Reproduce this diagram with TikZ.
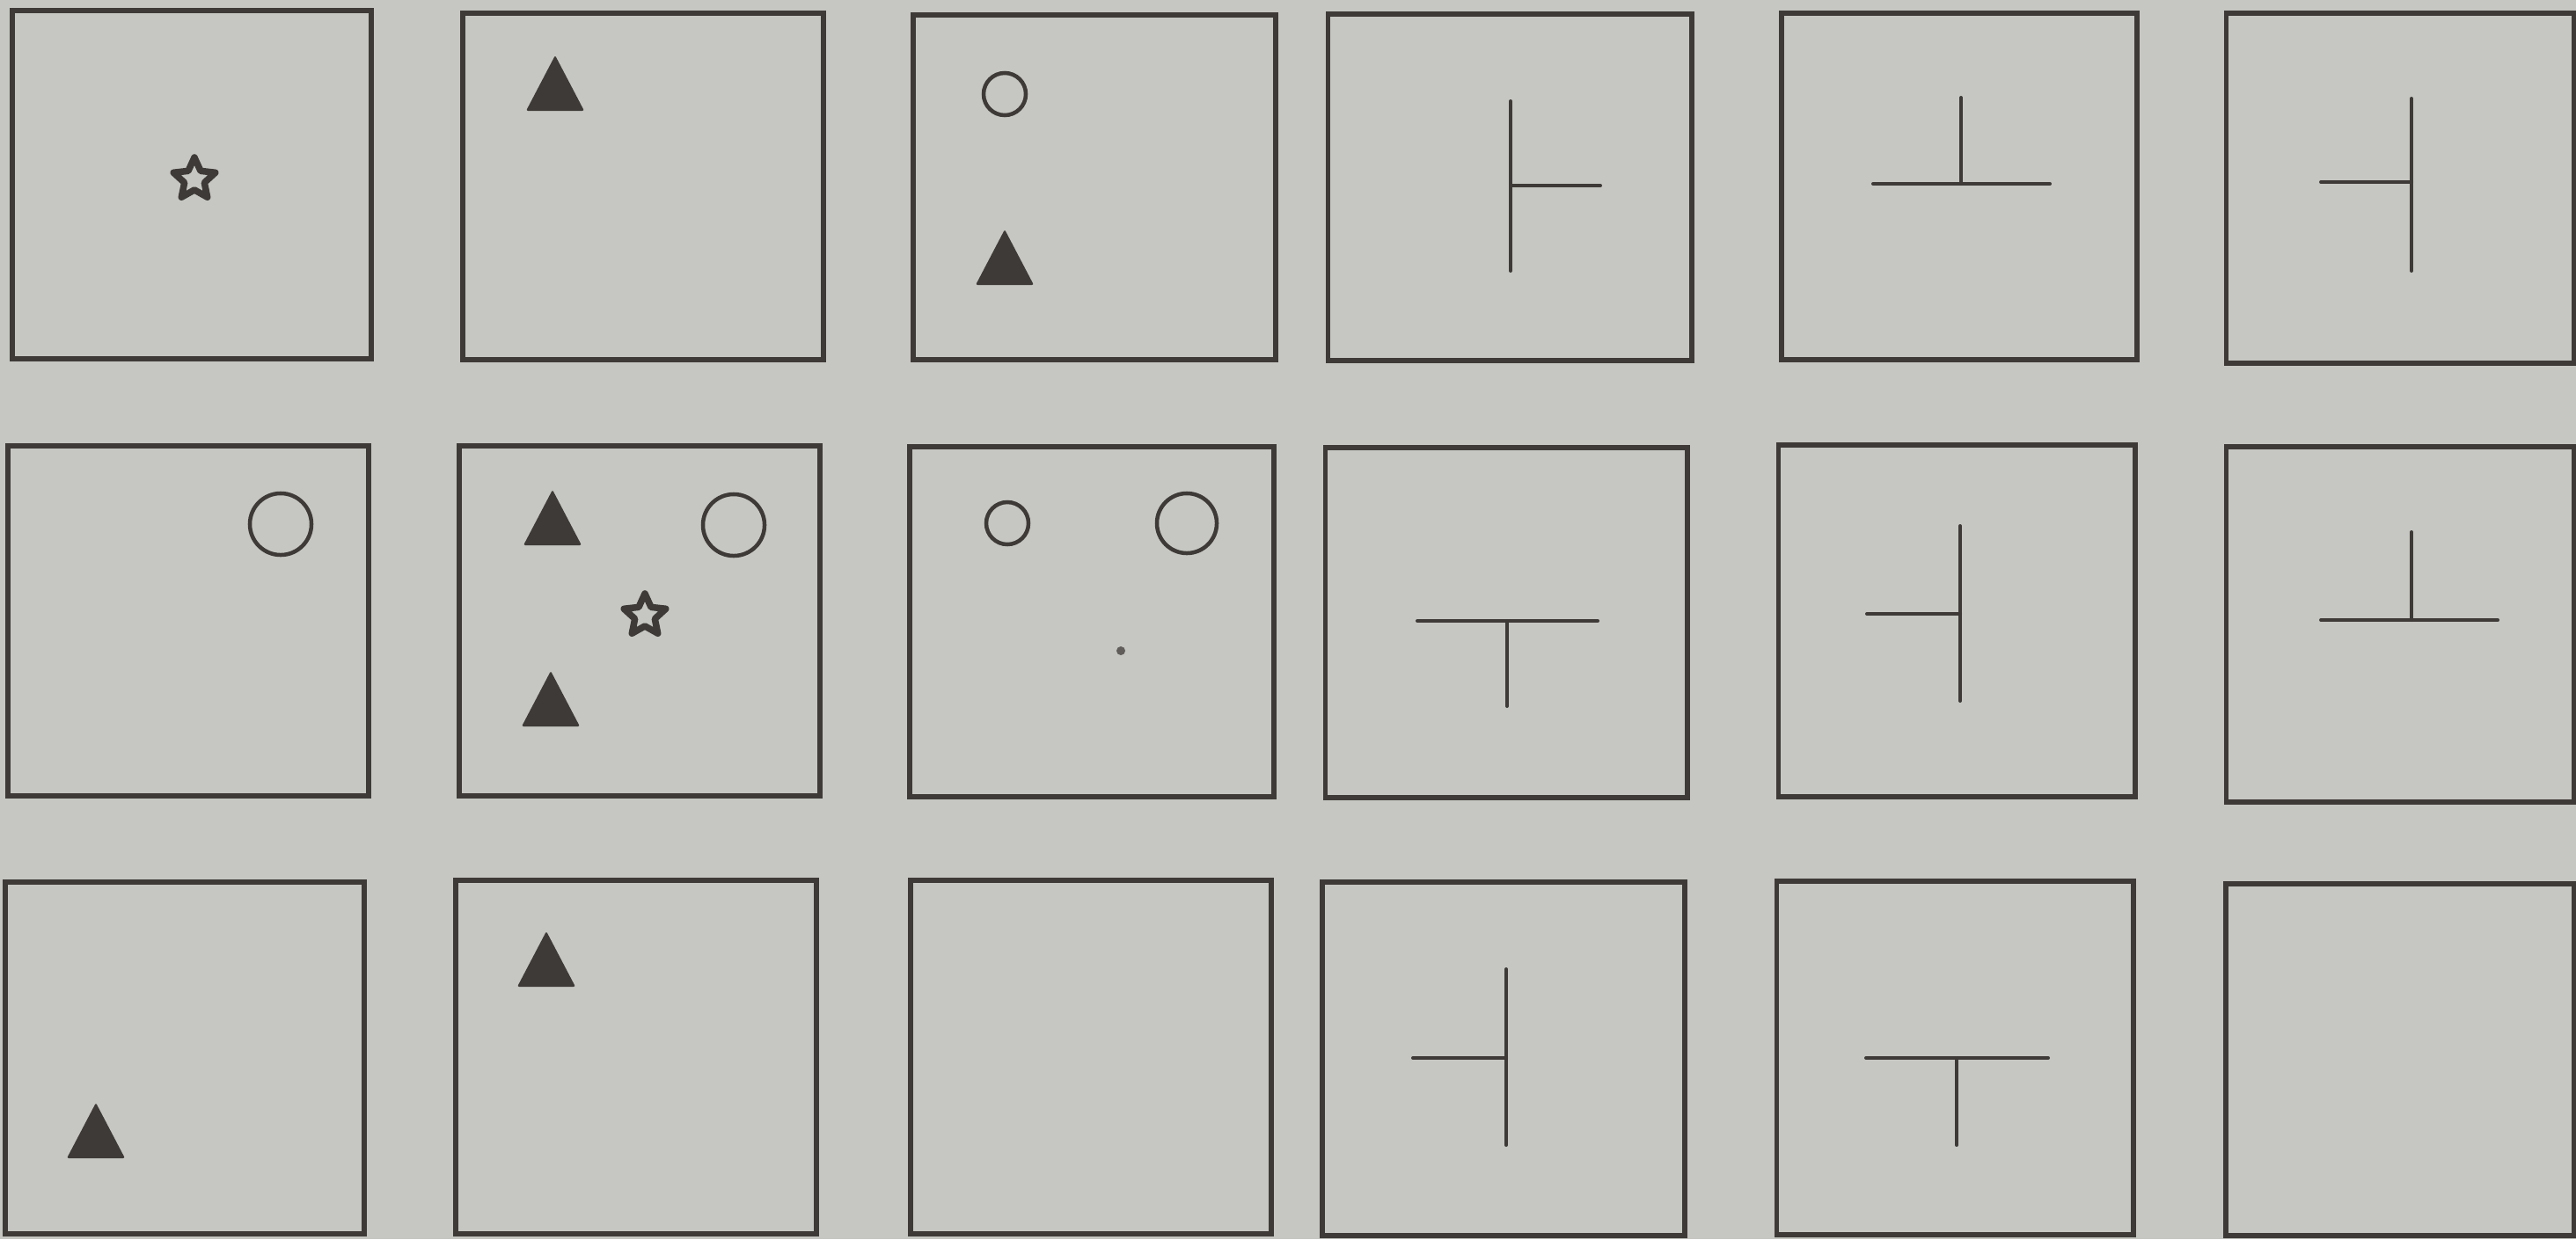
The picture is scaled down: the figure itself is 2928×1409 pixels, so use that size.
\documentclass[tikz,border=0pt]{standalone}
\usepackage{tikz}
\usetikzlibrary{shapes.geometric}
\definecolor{paper}{RGB}{198,199,194}
\definecolor{ink}{RGB}{62,58,55}

\begin{document}
\begin{tikzpicture}[x=0.01cm,y=-0.01cm,
  cell/.style={rectangle,draw=ink,line width=0.058cm,inner sep=0pt},
  stroke/.style={draw=ink,line width=0.04cm,line cap=round},
  ring/.style={draw=ink,line width=0.045cm},
  starmark/.style={star,star points=5,star point ratio=2.1,draw=ink,line width=0.075cm,line join=round,inner sep=0pt,minimum size=0.5cm}]
\fill[paper] (0,0) rectangle (2928,1409);
\useasboundingbox (0,0) rectangle (2928,1409);
\foreach \n/\cx/\cy/\w/\h in {a1/218/210/408/395,a2/731/212/410/393,a3/1244/213/412/392,a4/1716/213/413/394,a5/2227/212/404/393,a6/2728/214/395/397,
    b1/214/706/409/398,b2/727/706/410/397,b3/1241/707/413/398,b4/1712/708/411/398,b5/2224/706/405/399,b6/2728/710/395/403,
    c1/210/1203/407/400,c2/723/1202/410/401,c3/1240/1202/410/401,c4/1709/1204/412/401,c5/2222/1203/405/401,c6/2728/1205/396/399} {
    \node[cell,minimum width=\w*0.1mm,minimum height=\h*0.1mm] (\n) at (\cx,\cy) {};
}
\node[starmark] (s1) at (221,204) {};
\node[starmark] (s2) at (733,700) {};
\foreach \x/\y in {631/95,1142/293,628/589,626/795,109/1286,621/1091} {
    \fill[ink,rounded corners=0.6pt] (\x,\y-32) -- (\x+33,\y+31) -- (\x-33,\y+31) -- cycle;
}
\foreach \x/\y/\r in {1142/107/24,319/596/35,834/597/35,1145/595/24,1349/595/34} {
    \draw[ring] (\x,\y) circle[radius=\r*0.1mm];
}
\fill[ink!75!paper] (1274,740) circle[radius=0.05cm];
\foreach \xa/\ya/\xb/\yb in {1717/115/1717/308,1717/211/1819/211,
    2229/111/2229/209,2129/209/2330/209,
    2741/112/2741/308,2638/207/2741/207,
    1611/706/1816/706,1713/706/1713/803,
    2228/598/2228/797,2122/698/2228/698,
    2741/605/2741/705,2638/705/2839/705,
    1712/1102/1712/1302,1606/1203/1712/1203,
    2121/1203/2328/1203,2224/1203/2224/1302} {
    \draw[stroke] (\xa,\ya) -- (\xb,\yb);
}
\end{tikzpicture}
\end{document}
